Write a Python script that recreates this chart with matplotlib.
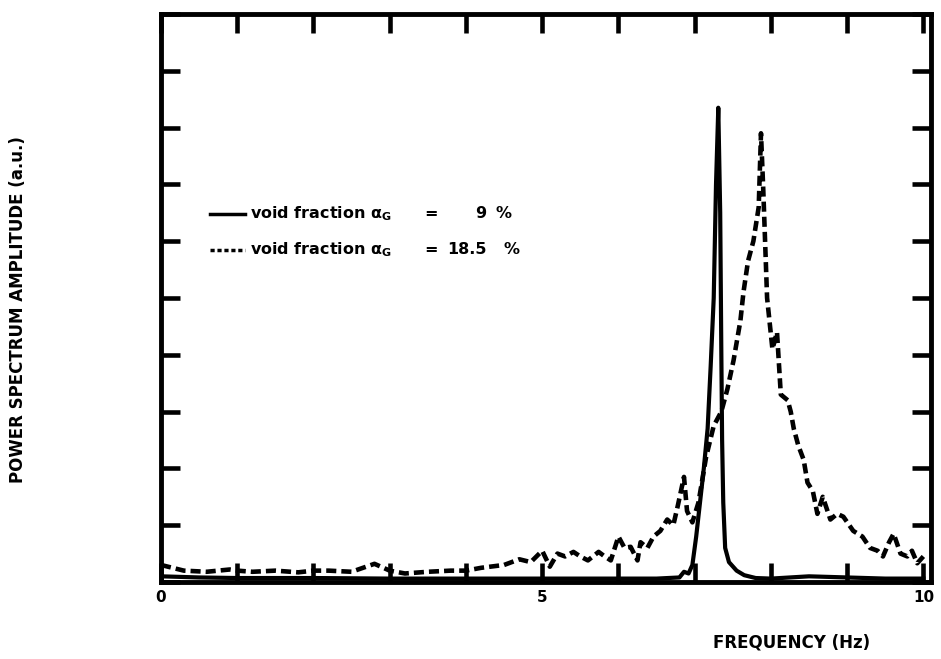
import matplotlib
matplotlib.use("Agg")
import matplotlib.pyplot as plt

#===============================================================================
# DATA
#===============================================================================
# void fraction 9 % -> solid line
freq_9 = [0.0, 0.5, 1.0, 2.0, 3.0, 4.0, 5.0, 6.0, 6.5, 6.8, 6.86, 6.92, 6.97,
          7.02, 7.07, 7.12, 7.17, 7.21, 7.25, 7.28, 7.31, 7.335, 7.35, 7.36,
          7.375, 7.4, 7.45, 7.55, 7.65, 7.8, 8.0, 8.5, 9.0, 9.5, 10.0]
amp_9 = [0.1, 0.08, 0.07, 0.07, 0.06, 0.06, 0.06, 0.06, 0.06, 0.08, 0.18,
         0.15, 0.3, 0.8, 1.4, 2.0, 2.7, 3.8, 5.0, 7.0, 8.35, 6.5, 4.0, 2.5,
         1.4, 0.6, 0.35, 0.2, 0.12, 0.07, 0.06, 0.1, 0.08, 0.06, 0.06]

# void fraction 18.5 % -> dashed line
freq_18 = [0.0, 0.3, 0.6, 0.9, 1.0, 1.2, 1.5, 1.8, 2.0, 2.2, 2.5, 2.8, 3.0,
           3.2, 3.5, 3.8, 4.0, 4.2, 4.5, 4.7, 4.85, 5.0, 5.1, 5.2, 5.3, 5.41,
           5.5, 5.6, 5.74, 5.82, 5.9, 6.0, 6.08, 6.16, 6.25, 6.29, 6.38, 6.46,
           6.55, 6.64, 6.72, 6.78, 6.86, 6.9, 6.97, 7.05, 7.15, 7.25, 7.35,
           7.43, 7.51, 7.6, 7.64, 7.7, 7.77, 7.84, 7.87, 7.9, 7.95, 8.02, 8.08,
           8.13, 8.22, 8.26, 8.3, 8.36, 8.43, 8.48, 8.55, 8.61, 8.68, 8.78,
           8.87, 8.95, 9.08, 9.2, 9.3, 9.4, 9.47, 9.55, 9.61, 9.7, 9.79, 9.85,
           9.92, 10.0]
amp_18 = [0.3, 0.2, 0.18, 0.22, 0.2, 0.18, 0.2, 0.17, 0.2, 0.2, 0.18, 0.32,
          0.2, 0.15, 0.18, 0.2, 0.2, 0.25, 0.3, 0.4, 0.35, 0.55, 0.27, 0.5,
          0.45, 0.53, 0.45, 0.38, 0.53, 0.45, 0.38, 0.8, 0.6, 0.62, 0.38, 0.7,
          0.6, 0.8, 0.9, 1.1, 1.0, 1.35, 1.85, 1.25, 1.05, 1.4, 2.2, 2.75, 3.0,
          3.4, 3.9, 4.6, 5.1, 5.65, 6.0, 6.6, 7.9, 6.9, 5.0, 4.1, 4.4, 3.3,
          3.2, 3.0, 2.7, 2.4, 2.15, 1.75, 1.6, 1.2, 1.5, 1.1, 1.2, 1.15, 0.9,
          0.8, 0.6, 0.55, 0.45, 0.7, 0.85, 0.5, 0.45, 0.55, 0.33, 0.45]

x_ticks = [0, 1, 2, 3, 4, 5, 6, 7, 8, 9, 10]
x_tick_labels = ["0", "", "", "", "", "5", "", "", "", "", "10"]
y_ticks = [0, 1, 2, 3, 4, 5, 6, 7, 8, 9, 10]

legend_names = ["void fraction $\\alpha_G$", "void fraction $\\alpha_G$"]
legend_values = ["9", "18.5"]

#===============================================================================
# PLOT
#===============================================================================
plt.rcParams["font.weight"] = "bold"
plt.rcParams["mathtext.default"] = "bf"

fig = plt.figure(figsize=(9.41, 6.59), dpi=100)
ax = fig.add_axes([161 / 941, 1 - 582 / 659, 770 / 941, 568 / 659])

ax.plot(freq_9, amp_9, color="black", lw=3.0, solid_joinstyle="round")
ax.plot(freq_18, amp_18, color="black", lw=3.3, linestyle=(0, (2.2, 1.1)))

ax.set_xlim(0, 10.1)
ax.set_ylim(0, 10)
ax.set_xticks(x_ticks)
ax.set_xticklabels(x_tick_labels, fontsize=11, fontweight="bold")
ax.set_yticks(y_ticks)
ax.set_yticklabels([])
ax.tick_params(direction="in", length=14, width=3.3, top=True, right=True,
               pad=6)

for s in ax.spines.values():
    s.set_linewidth(3.5)

# hand made legend
rows_y = [0.648, 0.585]
styles = ["-", (0, (1.2, 0.8))]
for k in range(2):
    ax.plot([0.064, 0.109], [rows_y[k], rows_y[k]], color="black", lw=2.5,
            linestyle=styles[k], transform=ax.transAxes)
    ax.text(0.116, rows_y[k], legend_names[k], transform=ax.transAxes,
            fontsize=11.5, va="center", ha="left")
    ax.text(0.350, rows_y[k], "=", transform=ax.transAxes, fontsize=11.5,
            va="center", ha="center")
    ax.text(0.423, rows_y[k], legend_values[k], transform=ax.transAxes,
            fontsize=11.5, va="center", ha="right")
    ax.text(0.435 + 0.01 * k, rows_y[k], "%", transform=ax.transAxes,
            fontsize=11.5, va="center", ha="left")

fig.text(792 / 941, 1 - 643 / 659, "FREQUENCY (Hz)", fontsize=12,
         ha="center", va="center")
fig.text(18 / 941, 1 - 310 / 659, "POWER SPECTRUM AMPLITUDE (a.u.)",
         fontsize=12, rotation=90, ha="center", va="center")

fig.savefig("out.png", dpi=100)
